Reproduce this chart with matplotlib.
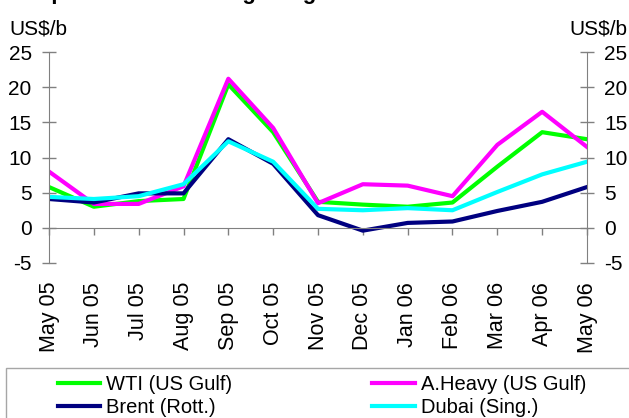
import matplotlib
matplotlib.use("Agg")
import matplotlib.pyplot as plt
from matplotlib.patches import Rectangle

plt.rcParams['font.family'] = ['Liberation Sans', 'DejaVu Sans']

# Data (US$/b)
months = ['May 05', 'Jun 05', 'Jul 05', 'Aug 05', 'Sep 05', 'Oct 05', 'Nov 05',
          'Dec 05', 'Jan 06', 'Feb 06', 'Mar 06', 'Apr 06', 'May 06']
wti    = [5.8, 3.0, 3.8, 4.1, 20.4, 13.6, 3.7, 3.3, 3.0, 3.6, 8.7, 13.6, 12.6]
aheavy = [8.0, 3.4, 3.4, 5.9, 21.2, 14.2, 3.5, 6.2, 6.0, 4.5, 11.8, 16.5, 11.5]
brent  = [4.1, 3.6, 4.9, 4.9, 12.6, 9.1, 1.8, -0.4, 0.7, 0.9, 2.4, 3.7, 5.8]
dubai  = [4.4, 4.1, 4.5, 6.2, 12.3, 9.4, 2.7, 2.5, 2.8, 2.5, 5.1, 7.6, 9.4]
yticks = [-5, 0, 5, 10, 15, 20, 25]

W, H = 629, 418
fig = plt.figure(figsize=(W / 100, H / 100), dpi=100)
ax = fig.add_axes([49 / W, 1 - 263 / H, 538 / W, 211 / H])

# spine placement first: set_position resets the tick objects
grey = '#808080'
ax.spines['top'].set_visible(False)
for s in ['left', 'right', 'bottom']:
    ax.spines[s].set_color(grey)
ax.spines['bottom'].set_position(('data', 0))

x = list(range(len(months)))
l_wti, = ax.plot(x, wti, color='#00ff00', lw=3, label='WTI (US Gulf)')
l_ah, = ax.plot(x, aheavy, color='#ff00ff', lw=3, label='A.Heavy (US Gulf)')
l_br, = ax.plot(x, brent, color='#000080', lw=3, label='Brent (Rott.)')
l_du, = ax.plot(x, dubai, color='#00ffff', lw=3, label='Dubai (Sing.)')

ax.set_xlim(0, len(months) - 1)
ax.set_ylim(-5, 25)
ax.set_yticks(yticks)
ax.set_yticklabels([str(v) for v in yticks])
ax.set_xticks(x)
ax.set_xticklabels(months, rotation=90, fontsize=15.5)

ax.yaxis.set_ticks_position('both')
ax.tick_params(axis='y', direction='inout', length=10, width=1, color=grey,
               labelsize=15, pad=7.5, labelleft=True, labelright=True)
ax.tick_params(axis='x', direction='out', length=5, width=1, color=grey, pad=34)

fig.text(9 / W, 1 - 29 / H, 'US$/b', fontsize=15, va='center', ha='left')
fig.text(627 / W, 1 - 29 / H, 'US$/b', fontsize=15, va='center', ha='right')

# clipped title at the very top
fig.text(2 / W, 1 + 1 / H, 'Comparison of cracking margins', fontsize=16,
         fontweight='bold', va='baseline', ha='left')

# legend frame running off the bottom/right edges
fig.add_artist(Rectangle((6 / W, -0.2), 1.2, 0.2 + (H - 368) / H,
                         transform=fig.transFigure, fill=False,
                         edgecolor='#a6a6a6', lw=1))
fig.legend([l_wti, l_br, l_ah, l_du],
           ['WTI (US Gulf)', 'Brent (Rott.)', 'A.Heavy (US Gulf)', 'Dubai (Sing.)'],
           loc='upper left', bbox_to_anchor=(58 / W, 1 - 375 / H), ncol=2,
           frameon=False, fontsize=14.5, handlelength=2.1, handletextpad=0.3,
           columnspacing=6.95, labelspacing=0.2, borderpad=0, borderaxespad=0)

fig.savefig('out.png', dpi=100)
